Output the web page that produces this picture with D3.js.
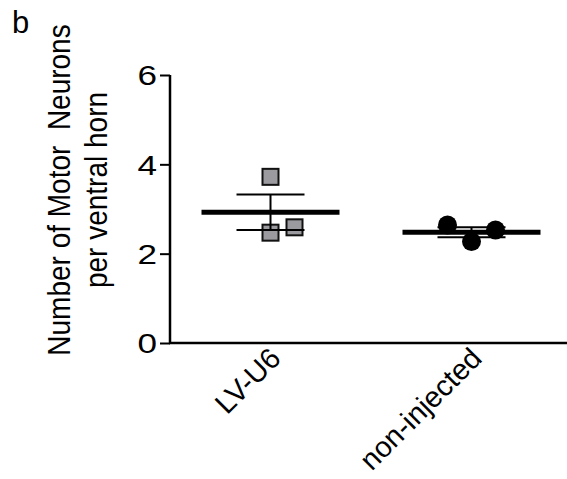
<!DOCTYPE html>
<html>
<head>
<meta charset="utf-8">
<script src="https://cdn.jsdelivr.net/npm/d3@7"></script>
<style>
  html, body { margin: 0; padding: 0; background: #fff; }
  svg { display: block; font-family: "Liberation Sans", Arial, sans-serif; }
</style>
</head>
<body>
<svg id="chart" width="567" height="479"></svg>
<script>
// ---- data ----
const categories = ["LV-U6", "non-injected"];
const lvU6Values = [3.72, 2.47, 2.59];
const nonInjectedValues = [2.64, 2.27, 2.53];
const yTicks = [0, 2, 4, 6];
const yTitleLines = ["Number of Motor\u00A0 Neurons", "per ventral horn"];
const panelLabel = "b";

const groups = [
  { name: categories[0], values: lvU6Values, shape: "square" },
  { name: categories[1], values: nonInjectedValues, shape: "circle" }
];

// ---- layout ----
const svg = d3.select("#chart");
const x0 = 170, x1 = 572, yTop = 75, yBottom = 343;
const x = d3.scaleBand().domain(categories).range([x0, x1]).padding(0);
const y = d3.scaleLinear().domain([0, 6]).range([yBottom, yTop]);

// panel label
svg.append("text").attr("x", 12).attr("y", 33).attr("font-size", 31).text(panelLabel);

// y axis
const yAxis = svg.append("g").attr("transform", `translate(${x0},0)`)
  .call(d3.axisLeft(y).tickValues(yTicks).tickFormat(d3.format("d")).tickSize(10).tickPadding(5));
yAxis.select(".domain").attr("stroke", "#000").attr("stroke-width", 2.5).attr("d", `M0,${yTop}V${yBottom}`);
yAxis.selectAll(".tick line").attr("stroke", "#000").attr("stroke-width", 2);
yAxis.selectAll(".tick text")
  .attr("x", 0)
  .attr("transform", "translate(-13,0) scale(1.3,1)")
  .attr("font-size", 27).attr("fill", "#000")
  .attr("font-family", "Liberation Sans, Arial, sans-serif").attr("dy", "0.36em");

// x axis line
svg.append("line").attr("x1", x0 - 1).attr("x2", 567).attr("y1", yBottom).attr("y2", yBottom)
  .attr("stroke", "#000").attr("stroke-width", 2.5);

// x labels
categories.forEach(c => {
  const cx = x(c) + x.bandwidth() / 2;
  svg.append("text")
    .attr("transform", `translate(${cx + 12},${yBottom + 17}) rotate(-45)`)
    .attr("text-anchor", "end").attr("font-size", 29).text(c);
});

// y title
const yt = svg.append("g").attr("transform", `translate(70,190) rotate(-90) scale(1,1.1)`);
yTitleLines.forEach((t, i) => {
  yt.append("text").attr("x", 0).attr("y", i * 34).attr("text-anchor", "middle")
    .attr("font-size", 28).text(t);
});

// jitter (greedy column placement to avoid overlap)
const markerPx = 18, step = 24;
function placeOffsets(vals) {
  const order = vals.map((v, i) => i).sort((a, b) => vals[a] - vals[b]);
  const placed = [];
  const offs = new Array(vals.length);
  const candidates = [0, 1, -1, 2, -2];
  order.forEach(i => {
    const py = y(vals[i]);
    for (const c of candidates) {
      if (!placed.some(p => p.c === c && Math.abs(p.py - py) < markerPx)) {
        offs[i] = c; placed.push({ c, py }); break;
      }
    }
  });
  return offs;
}

groups.forEach(g => {
  const cx = x(g.name) + x.bandwidth() / 2;
  const mean = d3.mean(g.values);
  const sem = d3.deviation(g.values) / Math.sqrt(g.values.length);
  const offs = placeOffsets(g.values);
  const gg = svg.append("g");

  // points
  g.values.forEach((v, i) => {
    const px = cx + offs[i] * step, py = y(v);
    if (g.shape === "square") {
      gg.append("rect").attr("x", px - 8).attr("y", py - 8).attr("width", 16).attr("height", 16)
        .attr("fill", "#9b9b9f").attr("stroke", "#111").attr("stroke-width", 2);
    } else {
      gg.append("circle").attr("cx", px).attr("cy", py).attr("r", 9.5).attr("fill", "#000");
    }
  });

  // error bars (SEM)
  const eb = svg.append("g").attr("stroke", "#000");
  eb.append("line").attr("x1", cx).attr("x2", cx).attr("y1", y(mean + sem)).attr("y2", y(mean - sem)).attr("stroke-width", 2);
  [mean + sem, mean - sem].forEach(v => {
    eb.append("line").attr("x1", cx - 34).attr("x2", cx + 34).attr("y1", y(v)).attr("y2", y(v)).attr("stroke-width", 2);
  });
  // mean
  eb.append("line").attr("x1", cx - 69).attr("x2", cx + 69).attr("y1", y(mean)).attr("y2", y(mean)).attr("stroke-width", 5);
});
</script>
</body>
</html>
